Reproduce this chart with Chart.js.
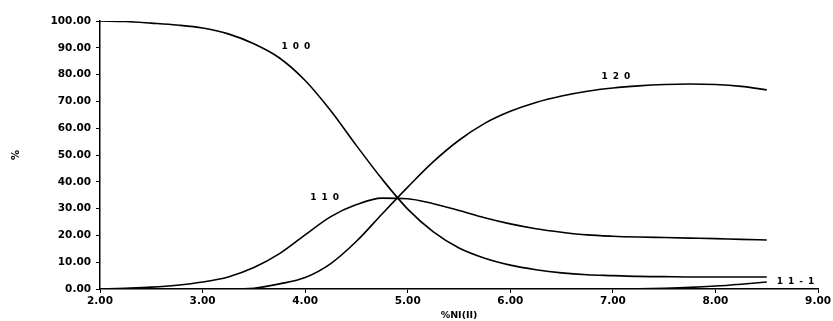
<!DOCTYPE html>
<html>
<head>
<meta charset="utf-8">
<script src="https://cdn.jsdelivr.net/npm/chart.js@4/dist/chart.umd.min.js"></script>
<style>
  body { margin: 0; background: #fff; }
  #wrap { width: 833px; height: 321px; position: relative; }
</style>
</head>
<body>
<div id="wrap"><canvas id="myChart"></canvas></div>
<script>
// %Ni(II) values where the curves were read
var xValues = [2.0, 2.25, 2.5, 2.75, 3.0, 3.25, 3.5, 3.75, 4.0, 4.25, 4.5, 4.75, 5.0, 5.25, 5.5, 5.75, 6.0, 6.25, 6.5, 6.75, 7.0, 7.25, 7.5, 7.75, 8.0, 8.25, 8.5];

// species curves (%)
var s100 = [100, 99.8, 99.2, 98.5, 97.4, 95.2, 91.5, 86.2, 77.8, 66.5, 53.5, 41.0, 29.8, 21.3, 15.3, 11.5, 8.9, 7.2, 6.0, 5.3, 5.0, 4.7, 4.6, 4.5, 4.5, 4.5, 4.5];
var s110 = [0, 0.3, 0.7, 1.4, 2.6, 4.5, 8.0, 13.2, 20.2, 27.0, 31.5, 33.9, 33.7, 31.8, 29.3, 26.6, 24.3, 22.5, 21.2, 20.2, 19.7, 19.4, 19.2, 19.0, 18.8, 18.5, 18.3];
var s120 = [0, 0, 0, 0, 0, 0, 0.3, 1.9, 4.3, 9.5, 17.8, 28.0, 38.0, 47.5, 55.5, 61.8, 66.3, 69.6, 72.0, 73.8, 75.0, 75.8, 76.3, 76.5, 76.3, 75.6, 74.3];
var s11m1 = [0, 0, 0, 0, 0, 0, 0, 0, 0, 0, 0, 0, 0, 0, 0, 0, 0, 0, 0, 0, 0, 0.1, 0.3, 0.6, 1.1, 1.8, 2.6];

var seriesNames = ['100', '110', '120', '11-1'];
var seriesData = [s100, s110, s120, s11m1];

// where each curve name sits (data units)
var nameX = [3.91, 4.19, 7.03, 8.78];
var nameY = [90.3, 34.0, 79.1, 2.6];

var fontFam = '"DejaVu Sans", Arial, sans-serif';

function toPoints(arr) {
  return arr.map(function (v, i) { return { x: xValues[i], y: v }; });
}

var datasets = seriesData.map(function (arr, i) {
  return {
    label: seriesNames[i],
    data: toPoints(arr),
    borderColor: '#000',
    borderWidth: 1.6,
    pointRadius: 0,
    fill: false,
    cubicInterpolationMode: 'monotone'
  };
});

//curve names drawn next to the lines
var curveNames = {
  id: 'curveNames',
  afterDatasetsDraw: function (chart) {
    var ctx = chart.ctx;
    var xs = chart.scales.x, ys = chart.scales.y;
    ctx.save();
    ctx.fillStyle = '#000';
    ctx.font = 'bold 9px ' + fontFam;
    ctx.letterSpacing = '5px';
    ctx.textAlign = 'center';
    ctx.textBaseline = 'middle';
    seriesNames.forEach(function (n, i) {
      ctx.fillText(n, xs.getPixelForValue(nameX[i]) + 2.5, ys.getPixelForValue(nameY[i]));
    });
    ctx.restore();
  }
};

var ctx = document.getElementById('myChart').getContext('2d');
var myChart = new Chart(ctx, {
  type: 'line',
  data: { datasets: datasets },
  plugins: [curveNames],
  options: {
    responsive: true,
    maintainAspectRatio: false,
    animation: false,
    layout: { padding: { top: 21, right: 13, left: 0, bottom: 0 } },
    plugins: {
      legend: { display: false },
      tooltip: { enabled: false }
    },
    scales: {
      x: {
        type: 'linear',
        min: 2,
        max: 9,
        ticks: {
          stepSize: 1,
          color: '#000',
          padding: 2,
          maxRotation: 0,
          font: { family: fontFam, size: 10.5, weight: 'bold' },
          callback: function (v) { return v.toFixed(2); }
        },
        grid: { drawOnChartArea: false, drawTicks: true, tickLength: 4, color: '#000' },
        border: { display: true, color: '#000', width: 1.5 },
        title: {
          display: true,
          text: '%NI(II)',
          color: '#000',
          padding: { top: 0, bottom: 0 },
          font: { family: fontFam, size: 9.5, weight: 'bold' }
        },
        afterFit: function (scale) { scale.height = 32; }
      },
      y: {
        min: 0,
        max: 100,
        ticks: {
          stepSize: 10,
          color: '#000',
          padding: 5,
          font: { family: fontFam, size: 10.5, weight: 'bold' },
          callback: function (v) { return v.toFixed(2); }
        },
        grid: { drawOnChartArea: false, drawTicks: true, tickLength: 4, color: '#000' },
        border: { display: true, color: '#000', width: 1.5 },
        title: {
          display: true,
          text: '%',
          color: '#000',
          padding: { top: 10, bottom: 0 },
          font: { family: fontFam, size: 10, weight: 'bold' }
        },
        afterFit: function (scale) { scale.width = 100; }
      }
    }
  }
});
</script>
</body>
</html>
